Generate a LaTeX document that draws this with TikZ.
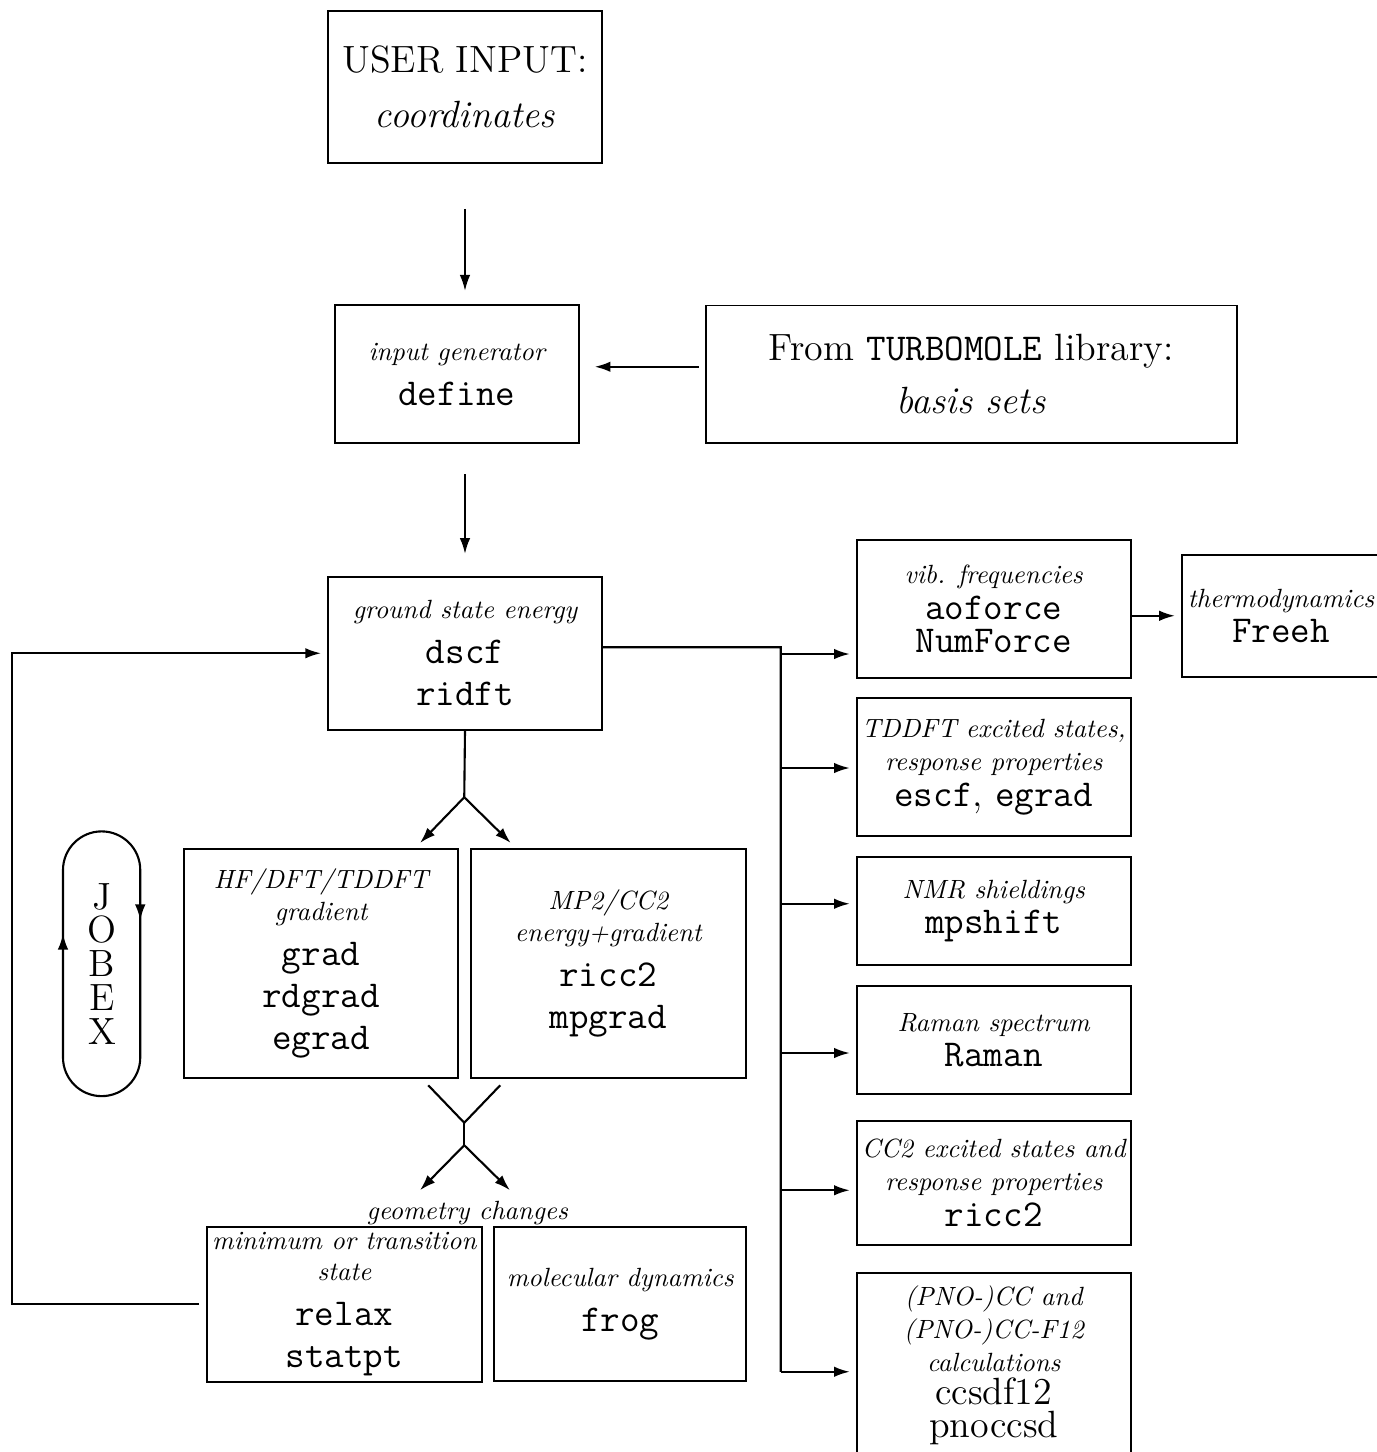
\documentclass[tikz,border=0pt]{standalone}
\usepackage{tikz}
\usetikzlibrary{arrows.meta}
\tikzset{every node/.style={font=\normalsize},
  >={Latex[length=6pt,width=4pt]},
  progbox/.style={draw,thick,align=center,inner sep=2pt,minimum width=3.65cm,
    font=\fontsize{14.4}{16}\selectfont},% boxes of the main column
  sidebox/.style={progbox,inner sep=1pt,font=\fontsize{14.4}{12.5}\selectfont},% boxes at the right
  inbox/.style={draw,semithick,align=center,font=\Large}}
\newcommand{\desc}[1]{{\normalsize\itshape #1}}

\begin{document}
\begin{tikzpicture}[scale = 1]
    \useasboundingbox (0,0) rectangle (18.36,-19.36);
    % input
    \node[inbox, minimum width=3.65cm, minimum height=2.03cm] (user) at (6.20,-1.16) {USER INPUT:\\[3pt] \textit{coordinates}};
    \node[progbox, minimum width=3.25cm, minimum height=1.84cm] (define) at (6.09,-4.99) {\desc{input generator}\\[1pt] \texttt{define}};
    \node[inbox, minimum width=7.08cm, minimum height=1.83cm] (turbo) at (12.95,-4.99) {From \texttt{TURBOMOLE} library:\\[2pt] \textit{basis sets}};
    % main column
    \node[progbox, minimum height=2.04cm] (gse) at (6.20,-8.71) {\desc{ground state energy}\\[1pt] \texttt{dscf}\\ \texttt{ridft}};
    \node[progbox, minimum height=3.05cm] (hfgrad) at (4.28,-12.85) {\desc{HF/DFT/TDDFT}\\[-4pt] \desc{gradient}\\[1pt] \texttt{grad}\\ \texttt{rdgrad}\\ \texttt{egrad}};
    \node[progbox, minimum width=3.67cm, minimum height=3.05cm] (ccgrad) at (8.11,-12.85) {\desc{MP2/CC2}\\[-4pt] \desc{energy+gradient}\\[1pt] \texttt{ricc2}\\ \texttt{mpgrad}};
    \node[progbox, minimum height=2.05cm] (relax) at (4.59,-17.39) {\desc{minimum or transition}\\[-4pt] \desc{state}\\[1pt] \texttt{relax}\\ \texttt{statpt}};
    \node[progbox, minimum width=3.36cm, minimum height=2.05cm] (frog) at (8.27,-17.39) {\desc{molecular dynamics}\\[1pt] \texttt{frog}};
    \node[font=\normalsize\itshape] (geo) at (6.23,-16.17) {geometry changes};
    % properties
    \node[sidebox, minimum height=1.84cm] (vib) at (13.25,-8.12) {\desc{vib. frequencies}\\[1pt] \texttt{aoforce}\\ \texttt{NumForce}};
    \node[sidebox, minimum width=2.64cm, minimum height=1.63cm] (freeh) at (17.08,-8.21) {\desc{thermodynamics}\\[1pt] \texttt{Freeh}};
    \node[sidebox, minimum height=1.84cm] (tddft) at (13.25,-10.23) {\desc{TDDFT excited states,}\\ \desc{response properties}\\[1pt] \texttt{escf}, \texttt{egrad}};
    \node[sidebox, minimum height=1.44cm] (nmr) at (13.25,-12.15) {\desc{NMR shieldings}\\[1pt] \texttt{mpshift}};
    \node[sidebox, minimum height=1.44cm] (raman) at (13.25,-13.87) {\desc{Raman spectrum}\\[1pt] \texttt{Raman}};
    \node[sidebox, minimum height=1.65cm] (cc2) at (13.25,-15.77) {\desc{CC2 excited states and}\\ \desc{response properties}\\[1pt] \texttt{ricc2}};
    \node[sidebox, minimum height=2.45cm] (pno) at (13.25,-18.2) {\desc{(PNO-)CC and}\\ \desc{(PNO-)CC-F12}\\ \desc{calculations}\\ ccsdf12\\ pnoccsd};
    % jobex loop
    \draw[thick] (0.84,-11.6) arc (180:0:0.515) -- (1.87,-14.1) arc (0:-180:0.515) -- cycle;
    \draw[thick,->] (1.87,-11.9) -- (1.87,-12.27);
    \draw[thick,->] (0.84,-12.85) -- (0.84,-12.45);
    \node[font=\fontsize{14.4}{12.8}\selectfont, align=center] (jobex) at (1.36,-12.85) {J\\O\\B\\E\\X};
    % connectors
    \coordinate (split) at (6.19,-10.63);
    \coordinate (toHF) at (5.6,-11.24);
    \coordinate (toMP) at (6.81,-11.24);
    \coordinate (fromHF) at (5.71,-14.47);
    \coordinate (fromMP) at (6.67,-14.47);
    \coordinate (merge) at (6.19,-14.97);
    \coordinate (fork) at (6.19,-15.27);
    \coordinate (toRelax) at (5.6,-15.87);
    \coordinate (toFrog) at (6.8,-15.87);
    \coordinate (loop) at (0.16,-17.39);
    \coordinate (bustop) at (10.41,-8.63);
    \coordinate (busbot) at (10.41,-18.29);
    \draw[semithick,->, shorten <=0.6cm, shorten >=0.18cm] (user.south) -- (user.south |- define.north);
    \draw[thick,->, shorten <=0.08cm, shorten >=0.2cm] (turbo.west |- 0,-4.89) -- (define.east |- 0,-4.89);
    \draw[thick,->, shorten <=0.4cm, shorten >=0.29cm] (gse.north |- define.south) -- (gse.north);
    \draw[thick] (gse.south) -- (split);
    \draw[thick,->] (split) -- (toHF);
    \draw[thick,->] (split) -- (toMP);
    \draw[thick] (fromHF) -- (merge) -- (fromMP);
    \draw[thick] (merge) -- (fork);
    \draw[thick,->] (fork) -- (toRelax);
    \draw[thick,->] (fork) -- (toFrog);
    \draw[thick,->, shorten <=0.09cm, shorten >=0.08cm] (relax.west) -- (loop) |- (gse.west);
    \draw[thick] ([yshift=0.08cm]gse.east) -- (bustop) -- (busbot);
    \foreach \n/\y in {vib/-8.72, tddft/-10.24, nmr/-12.05, raman/-14.04, cc2/-15.87, pno/-18.29}
      \draw[thick,->, shorten >=0.08cm] (bustop |- 0,\y) -- (\n.west |- 0,\y);
    \draw[thick,->, shorten >=0.08cm] (vib.east |- freeh.west) -- (freeh.west);
\end{tikzpicture}
\end{document}
